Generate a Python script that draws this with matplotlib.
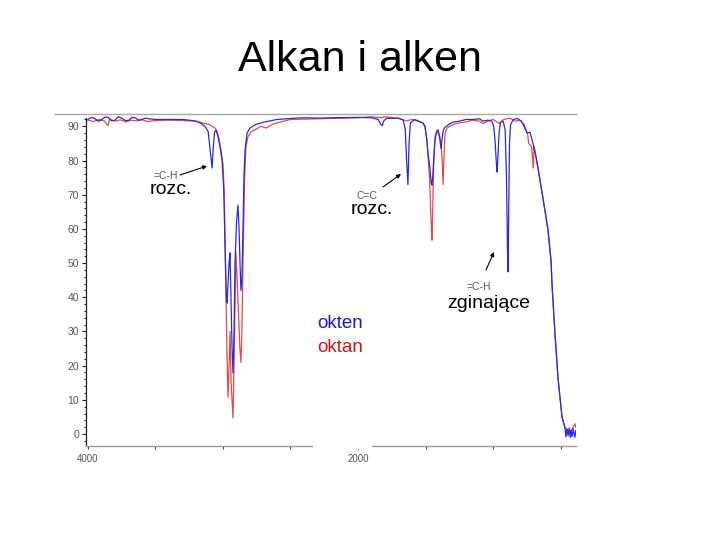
import matplotlib
matplotlib.use("Agg")
import matplotlib.pyplot as plt
from matplotlib.patches import Rectangle, FancyArrowPatch
from matplotlib.lines import Line2D
from matplotlib.ticker import MultipleLocator, FixedLocator

plt.rcParams['font.family'] = ['Liberation Sans', 'DejaVu Sans']

# ---------------- data (wavenumber cm-1, %T) ----------------
okten_wn = [4000, 3975, 3950, 3925, 3900, 3875, 3850, 3825, 3800, 3775, 3750, 3725, 3700, 3675,
            3650, 3625, 3600, 3575, 3550, 3500, 3400, 3300, 3250, 3200, 3160, 3130, 3110, 3095,
            3081, 3072, 3062, 3050, 3037, 3022, 3007, 2995, 2985, 2975, 2970, 2963, 2955, 2948,
            2941, 2933, 2926, 2918, 2911, 2900, 2889, 2881, 2874, 2867, 2860, 2852, 2845, 2837,
            2822, 2800, 2760, 2700, 2600, 2500, 2400, 2300, 2200, 2000, 1900, 1850, 1830, 1820,
            1810, 1790, 1700, 1665, 1650, 1640, 1630, 1622, 1612, 1580, 1520, 1504, 1490, 1481,
            1468, 1458, 1452, 1445, 1437, 1428, 1418, 1407, 1398, 1390, 1385, 1378, 1370, 1360,
            1330, 1300, 1250, 1200, 1150, 1100, 1074, 1040, 1010, 995, 985, 975, 970, 965, 955,
            945, 925, 910, 900, 893, 889, 885, 878, 870, 850, 820, 790, 770, 748, 726, 704, 681,
            652, 615, 593, 570, 563, 541, 519, 489, 467, 460, 452, 444, 436, 428, 422, 414, 406,
            400, 393, 387]
okten_T = [92.0, 92.6, 92.3, 91.5, 91.9, 92.7, 92.6, 91.6, 91.8, 92.8, 92.4, 91.7, 91.7, 92.6,
           92.5, 91.8, 92.0, 92.4, 92.2, 92.0, 92.0, 92.0, 91.8, 91.5, 90.8, 89.8, 88.5, 83.0,
           77.8, 84.0, 88.5, 88.8, 87.0, 84.0, 80.0, 72.0, 55.0, 40.0, 38.3, 44.0, 50.0, 53.0,
           40.0, 25.0, 17.8, 30.0, 50.0, 62.0, 67.0, 60.0, 50.0, 42.0, 45.0, 60.0, 75.0, 83.0,
           88.0, 89.5, 90.5, 91.2, 92.0, 92.3, 92.5, 92.4, 92.5, 92.6, 92.5, 92.0, 90.5, 90.2,
           91.5, 92.3, 92.4, 91.8, 89.0, 80.0, 73.0, 85.0, 91.0, 92.0, 91.0, 90.0, 86.0, 82.0,
           78.0, 73.5, 72.8, 76.0, 82.0, 87.0, 88.5, 89.0, 87.5, 85.0, 83.5, 86.0, 88.5, 89.5,
           90.5, 91.2, 91.5, 92.0, 92.0, 92.2, 91.5, 91.8, 91.5, 90.0, 86.0, 79.0, 76.6, 80.0, 88.0,
           91.2, 91.5, 89.0, 75.0, 55.0, 47.4, 60.0, 85.0, 90.5, 92.0, 92.3, 91.5, 90.0, 88.0,
           88.3, 85.0, 81.0, 74.3, 65.5, 60.0, 51.0, 44.0, 29.5, 16.7, 5.0, 1.8, -0.8, 1.5,
           -0.5, 1.8, -1.0, 1.2, -0.8, 1.6, 0.2, -0.9, 1.0]

oktan_wn = [4000, 3960, 3920, 3880, 3852, 3840, 3800, 3760, 3720, 3680, 3640, 3600, 3560, 3500,
            3400, 3300, 3200, 3150, 3100, 3060, 3045, 3030, 3015, 3000, 2990, 2980, 2970, 2963,
            2955, 2948, 2940, 2926, 2918, 2910, 2904, 2895, 2885, 2875, 2867, 2860, 2852, 2840,
            2830, 2815, 2790, 2760, 2720, 2680, 2640, 2600, 2500, 2000, 1900, 1830, 1800, 1700,
            1640, 1600, 1520, 1504, 1490, 1481, 1470, 1462, 1456, 1452, 1447, 1440, 1432, 1422,
            1410, 1395, 1385, 1375, 1370, 1362, 1355, 1340, 1300, 1250, 1200, 1150, 1100, 1074,
            1040, 1000, 980, 950, 930, 900, 870, 840, 800, 770, 745, 735, 715, 705, 701, 697, 690,
            681, 652, 615, 593, 570, 563, 541, 519, 489, 467, 444, 422, 400, 393, 387]
oktan_T = [91.8, 91.4, 92.0, 91.6, 90.2, 92.1, 91.5, 91.9, 91.3, 91.8, 91.6, 91.9, 91.4, 91.7,
           91.8, 91.7, 91.5, 91.0, 90.5, 89.5, 88.6, 86.5, 83.0, 79.0, 70.0, 45.0, 22.0, 10.8,
           20.0, 30.0, 15.0, 4.7, 20.0, 40.0, 53.0, 45.0, 35.0, 25.0, 21.0, 30.0, 50.0, 75.0,
           84.0, 87.0, 88.5, 89.0, 90.0, 89.5, 90.5, 91.0, 92.0, 92.5, 92.8, 92.5, 92.8, 92.3,
           91.6, 92.0, 91.0, 90.0, 86.0, 81.0, 75.0, 66.0, 60.0, 56.7, 65.0, 78.0, 85.0, 87.5,
           88.5, 87.0, 85.0, 79.0, 73.0, 82.0, 88.0, 89.5, 90.5, 91.0, 91.3, 91.8, 91.5, 90.8,
           91.5, 92.0, 91.5, 90.8, 91.8, 92.2, 92.3, 91.5, 91.8, 90.5, 88.0, 85.0, 84.0, 80.0,
           77.8, 84.0, 83.0, 81.0, 74.3, 65.0, 59.5, 50.0, 43.5, 29.0, 16.5, 5.0, 2.0, 1.0, 1.0,
           2.5, 3.0, 2.0]

xtick_values = [4000, 3500, 3000, 2500, 2000, 1500, 1000, 500]
xtick_labels = ['4000', '', '', '', '2000', '', '', '']
ytick_values = [0, 10, 20, 30, 40, 50, 60, 70, 80, 90]

W, H = 720, 540
fig = plt.figure(figsize=(7.2, 5.4), dpi=100)


def fx(x):
    return x / W


def fy(y):
    return 1 - y / H


ax = fig.add_axes([fx(86), fy(446), fx(576) - fx(86), fy(114) - fy(446)])
ax.set_xlim(4014.8, 385.2)
ax.set_ylim(-3.5, 93.6)

ax.plot(oktan_wn, oktan_T, color='#e04a4a', lw=0.9)
ax.plot(okten_wn, okten_T, color='#2a2ad8', lw=0.9)

for s in ['top', 'right']:
    ax.spines[s].set_visible(False)
ax.spines['left'].set_color('#222222')
ax.spines['left'].set_linewidth(0.9)
ax.spines['left'].set_bounds(-3.5, 92.5)
ax.spines['bottom'].set_color('#999999')
ax.spines['bottom'].set_linewidth(1.0)

ax.yaxis.set_major_locator(FixedLocator(ytick_values))
ax.yaxis.set_minor_locator(MultipleLocator(2))
ax.set_yticklabels([str(v) for v in ytick_values])
ax.tick_params(axis='y', which='major', length=3, width=0.8, color='#222222',
               labelsize=7.5, labelcolor='#555555', pad=2)
ax.tick_params(axis='y', which='minor', length=1.5, width=0.8, color='#222222')

ax.xaxis.set_major_locator(FixedLocator(xtick_values))
ax.set_xticklabels(xtick_labels)
ax.tick_params(axis='x', which='major', length=2, width=0.8, color='#444444',
               labelsize=7, labelcolor='#555555', pad=4)

# screenshot top border
fig.add_artist(Line2D([fx(55), fx(576)], [fy(114), fy(114)], color='#a8a8a8', lw=1.0,
                      transform=fig.transFigure))

# white box behind legend text (covers the axis line)
fig.add_artist(Rectangle((fx(313), fy(449)), fx(372) - fx(313), fy(305) - fy(449),
                         facecolor='white', edgecolor='none', transform=fig.transFigure, zorder=2))

# title
fig.text(fx(360), fy(60), 'Alkan i alken', fontsize=31, ha='center', va='center', color='black')

# annotations
small = dict(fontsize=7.5, color='#555555', ha='center', va='center')
big = dict(fontsize=14, color='black', ha='center', va='center')
arrow = dict(arrowstyle='-|>', color='black', lw=0.8, mutation_scale=6, shrinkA=0, shrinkB=0)

fig.text(fx(166), fy(176), '=C-H', **small)
fig.add_artist(FancyArrowPatch((fx(180), fy(175)), (fx(207), fy(166)),
                               transform=fig.transFigure, **arrow))
fig.text(fx(171), fy(189), 'rozc.', **big)

fig.text(fx(367), fy(196), 'C=C', **small)
fig.add_artist(FancyArrowPatch((fx(383), fy(187)), (fx(401), fy(174)),
                               transform=fig.transFigure, **arrow))
fig.text(fx(372), fy(209), 'rozc.', **big)

fig.text(fx(479), fy(287), '=C-H', **small)
fig.add_artist(FancyArrowPatch((fx(486), fy(270)), (fx(494), fy(252)),
                               transform=fig.transFigure, **arrow))
fig.text(fx(489), fy(303), 'zginające', **big)

fig.text(fx(340), fy(324), 'okten', fontsize=13.5, color='#1a1ac8', ha='center', va='center',
         zorder=3)
fig.text(fx(340), fy(347), 'oktan', fontsize=13.5, color='#cc1515', ha='center', va='center',
         zorder=3)

fig.savefig('out.png', dpi=100)
